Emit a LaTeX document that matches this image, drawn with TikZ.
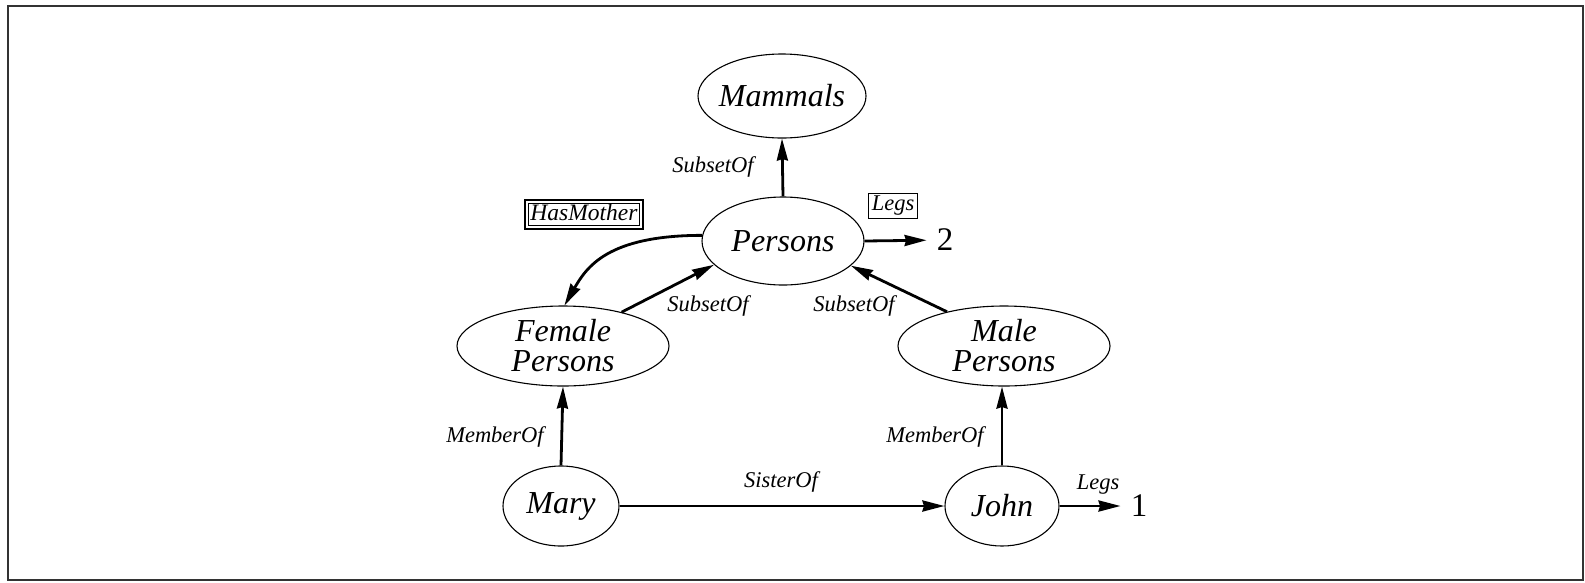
\documentclass[tikz,border=0pt]{standalone}
\usepackage{fontspec}
\setmainfont{Liberation Serif}
\usetikzlibrary{arrows.meta,shapes.geometric}
\begin{document}
\begin{tikzpicture}[x=1pt,y=-1pt,
  ell/.style={draw, ellipse, line width=1.1pt, inner sep=0pt, align=center,
    font=\fontsize{32}{30}\selectfont\itshape},
  lab/.style={inner sep=1pt, font=\fontsize{22.5}{24}\selectfont\itshape},
  boxlab/.style={draw, line width=1.1pt, inner xsep=3pt, inner ysep=3pt, font=\fontsize{22.5}{24}\selectfont\itshape},
  innerbox/.style={draw, line width=1pt, inner xsep=2pt, inner ysep=0pt, text height=17pt, text depth=5pt, font=\fontsize{23.5}{24}\selectfont\itshape},
  outerbox/.style={line width=2pt},
  num/.style={inner xsep=10pt, inner ysep=0pt, font=\fontsize{33}{33}\selectfont},
  arr/.style={line width=2.8pt, -{Stealth[length=22pt,width=11pt,inset=1.5pt]}},
  frame/.style={draw=black!80, line width=2.6pt}]
\useasboundingbox (0,0) rectangle (1585,582);
\draw[frame] (8,6) rectangle (1583,580);

\node[ell, inner xsep=-8pt, minimum width=168pt, minimum height=84pt] (Mammals) at (782,96) {Mammals};
\node[ell, minimum width=162pt, minimum height=88pt] (Persons) at (783,241) {Persons};
\node[ell, minimum width=212pt, minimum height=80pt] (Female) at (563,346) {Female\\Persons};
\node[ell, minimum width=212pt, minimum height=80pt] (Male) at (1004,346) {Male\\Persons};
\node[ell, minimum width=116pt, minimum height=80pt] (Mary) at (561,506) {Mary};
\node[ell, minimum width=114pt, minimum height=80pt] (John) at (1002,506) {John};

\node[num] (n2) at (945,240) {2};
\node[num] (n1) at (1139,506) {1};

\draw[arr] (Persons.north) -- (Mammals.south);
\draw[arr] (Persons.east) -- (n2);
\draw[arr] (Female.30) -- (Persons.199);
\draw[arr] (Male.149) -- (Persons.340);
\draw[arr] (Mary.north) -- (Female.south);
\draw[arr] (John.north) -- (John.north |- Male.south);
\draw[arr] (Mary.east) -- (John.west);
\draw[arr] (John.east) -- (n1);
\draw[arr] (Persons.176) .. controls +(-95,0) and +(22,-38) .. (Female.88);

\node[lab] (l1) at (713,167) {SubsetOf};
\node[boxlab] (l2) at (893,206) {Legs};
\node[innerbox] (l3) at (584,214) {HasMother};
\draw[outerbox] ([xshift=-3pt,yshift=-3pt]l3.south west) rectangle ([xshift=3pt,yshift=3pt]l3.north east);
\node[lab] (l4) at (708,306) {SubsetOf};
\node[lab] (l5) at (854,306) {SubsetOf};
\node[lab] (l6) at (495,437) {MemberOf};
\node[lab] (l7) at (935,437) {MemberOf};
\node[lab] (l8) at (781,482) {SisterOf};
\node[lab] (l9) at (1098,485) {Legs};
\end{tikzpicture}
\end{document}
